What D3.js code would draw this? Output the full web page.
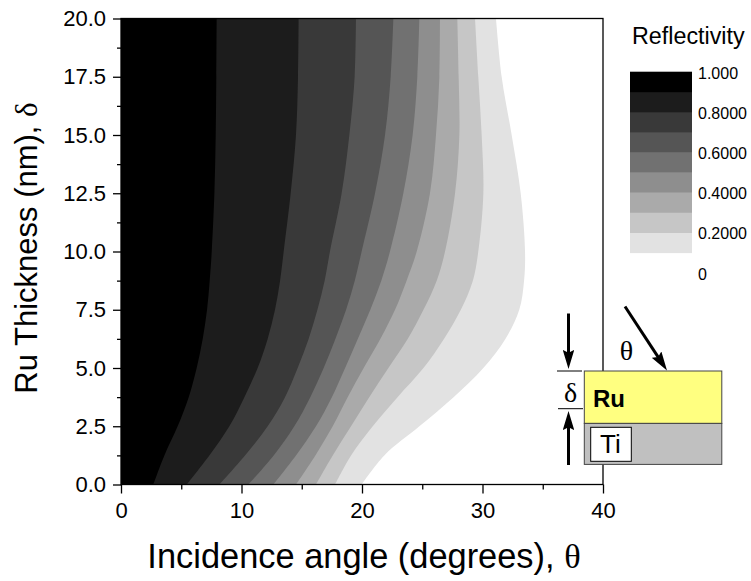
<!DOCTYPE html>
<html><head><meta charset="utf-8">
<script src="https://cdnjs.cloudflare.com/ajax/libs/d3/7.8.5/d3.min.js"></script>
<style>html,body{margin:0;padding:0;background:#fff}svg{display:block}text{font-family:"Liberation Sans",Arial,sans-serif;fill:#000}</style>
</head><body><svg id="c" width="751" height="581"></svg>
<script>
const thickness=[0,1.25,2.5,3.75,5,6.25,7.5,8.75,10,12.5,15,17.5,20];
const c1=[2.68,3.6,4.70,5.62,6.28,6.78,7.14,7.36,7.53,7.75,7.86,7.91,7.94];
const c2=[5.45,7.33,8.99,10.24,11.34,12.17,12.78,13.2,13.5,14.08,14.52,14.69,14.74];
const c3=[8.16,10.29,12.17,13.61,14.66,15.57,16.3,16.9,17.34,18.31,18.95,19.39,19.5];
const c4=[10.57,12.67,14.38,15.71,16.82,17.79,18.68,19.4,19.97,21.08,21.91,22.38,22.6];
const c5=[12.64,14.52,16.18,17.5,18.6,19.65,20.69,21.6,22.32,23.43,24.2,24.59,24.76];
const c6=[14.52,16.13,17.57,18.81,20.14,21.52,22.74,23.7,24.54,25.64,26.14,26.42,26.47];
const c7=[16.18,17.57,19.09,20.6,22.19,23.79,25.1,26.2,26.89,27.72,28.08,28.02,27.91];
const c8=[17.76,19.09,20.89,22.95,25.1,26.8,28.2,29.2,29.65,30.07,29.93,29.65,29.38];
const c9=[19.97,21.85,24.76,27.6,30.07,31.9,33.05,33.45,33.53,33.17,32.42,31.59,31.12];
const contours=[c9,c8,c7,c6,c5,c4,c3,c2,c1];
const levelFills=["#e2e2e2","#c6c6c6","#aaaaaa","#8e8e8e","#717171","#555555","#393939","#1c1c1c","#000000"];
const xMajor=[0,10,20,30,40], xMinor=[5,15,25,35];
const yMajor=[0,2.5,5,7.5,10,12.5,15,17.5,20], yMinor=[1.25,3.75,6.25,8.75,11.25,13.75,16.25,18.75];
const legendBands=[0,1,2,3,4,5,6,7,8,9];
const legendLabels=["1.000","0.8000","0.6000","0.4000","0.2000","0"];

const svg=d3.select("#c");
const x=d3.scaleLinear().domain([0,40]).range([121,603]);
const y=d3.scaleLinear().domain([0,20]).range([484.5,18.5]);

const area=d3.area().y(d=>y(d[1])).x0(x(0)).x1(d=>x(d[0])).curve(d3.curveCatmullRom.alpha(0.5));
contours.forEach((c,i)=>{
  svg.append("path").attr("d",area(c.map((v,j)=>[v,thickness[j]]))).attr("fill",levelFills[i]);
});

svg.append("rect").attr("x",x(0)).attr("y",y(20)).attr("width",x(40)-x(0)).attr("height",y(0)-y(20))
  .attr("fill","none").attr("stroke","#000").attr("stroke-width",1.3);

function ax(g){g.select(".domain").remove();g.selectAll("line").attr("stroke","#000").attr("stroke-width",1.3);}
const gx=svg.append("g").attr("transform","translate(0,484.5)");
gx.call(d3.axisBottom(x).tickValues(xMajor).tickSize(9).tickPadding(9).tickFormat(d3.format("d"))).call(ax);
gx.selectAll("text").style("font-size","22px").style("font-family","'Liberation Sans',Arial,sans-serif").attr("fill","#000");
svg.append("g").attr("transform","translate(0,484.5)").call(d3.axisBottom(x).tickValues(xMinor).tickSize(5).tickFormat("")).call(ax);
const gy=svg.append("g").attr("transform","translate(121,0)");
gy.call(d3.axisLeft(y).tickValues(yMajor).tickSize(8).tickPadding(7).tickFormat(d3.format(".1f"))).call(ax);
gy.selectAll("text").style("font-size","22px").style("font-family","'Liberation Sans',Arial,sans-serif").attr("fill","#000");
svg.append("g").attr("transform","translate(121,0)").call(d3.axisLeft(y).tickValues(yMinor).tickSize(4).tickFormat("")).call(ax);

const xt=svg.append("text").attr("x",364).attr("y",568).attr("text-anchor","middle").style("font-size","34.4px");
xt.append("tspan").text("Incidence angle (degrees), ");
xt.append("tspan").text("θ").style("font-family","'Liberation Serif',serif");
const yt=svg.append("text").attr("transform","translate(37,248) rotate(-90)").attr("text-anchor","middle").style("font-size","31px");
yt.append("tspan").text("Ru Thickness (nm), ");
yt.append("tspan").text("δ").style("font-family","'Liberation Serif',serif");

// legend
const lg=d3.scaleLinear().domain([9,0]).range([71.7,252.7]);
levelFills.forEach((f,i)=>{
  const b=legendBands[i];
  svg.append("rect").attr("x",630).attr("width",62).attr("y",lg(b+1)).attr("height",lg(b)-lg(b+1)+0.4).attr("fill",f);
});
svg.append("text").attr("x",632).attr("y",44).style("font-size","23.3px").text("Reflectivity");
legendLabels.forEach((t,i)=>{
  svg.append("text").attr("x",698).attr("y",72.5+i*40.2+6).style("font-size","16px").text(t);
});

// inset
const defs=svg.append("defs");
defs.append("marker").attr("id","h").attr("viewBox","0 0 10 10").attr("refX",5.8).attr("refY",5)
  .attr("markerUnits","userSpaceOnUse").attr("markerWidth",19).attr("markerHeight",11.5).attr("orient","auto")
  .attr("preserveAspectRatio","none")
  .append("path").attr("d","M0,0L10,5L0,10L1.5,5Z").attr("fill","#000");
svg.append("rect").attr("x",584.3).attr("y",371).attr("width",137.5).attr("height",52.4).attr("fill","#ffff80").attr("stroke","#444").attr("stroke-width",1);
svg.append("rect").attr("x",584.3).attr("y",423.4).attr("width",137.5).attr("height",41).attr("fill","#c0c0c0").attr("stroke","#444").attr("stroke-width",1);
svg.append("rect").attr("x",590.7).attr("y",427.3).attr("width",40.6).attr("height",34).attr("fill","#fff").attr("stroke","#000").attr("stroke-width",1);
svg.append("text").attr("x",593).attr("y",406.7).style("font-size","24px").style("font-weight","bold").text("Ru");
svg.append("text").attr("x",600).attr("y",453).style("font-size","26px").text("Ti");
svg.append("text").attr("x",626.5).attr("y",359.5).attr("text-anchor","middle").style("font-size","28px").style("font-family","'Liberation Serif',serif").text("θ");
svg.append("text").attr("x",570.5).attr("y",401.5).attr("text-anchor","middle").style("font-size","28px").style("font-family","'Liberation Serif',serif").text("δ");
const segs=[[625,306.5,667,370.5],[568.5,313.5,568.5,369],[568.5,465,568.5,411]];
segs.forEach(s=>{
  const L=Math.hypot(s[2]-s[0],s[3]-s[1]), k=(L-8)/L;
  svg.append("line").attr("x1",s[0]).attr("y1",s[1]).attr("x2",s[0]+(s[2]-s[0])*k).attr("y2",s[1]+(s[3]-s[1])*k)
    .attr("stroke","#000").attr("stroke-width",3).attr("marker-end","url(#h)");
});
[[557,582,371],[558,583,408.7]].forEach(s=>svg.append("line").attr("x1",s[0]).attr("x2",s[1]).attr("y1",s[2]).attr("y2",s[2]).attr("stroke","#000").attr("stroke-width",1));
</script></body></html>
